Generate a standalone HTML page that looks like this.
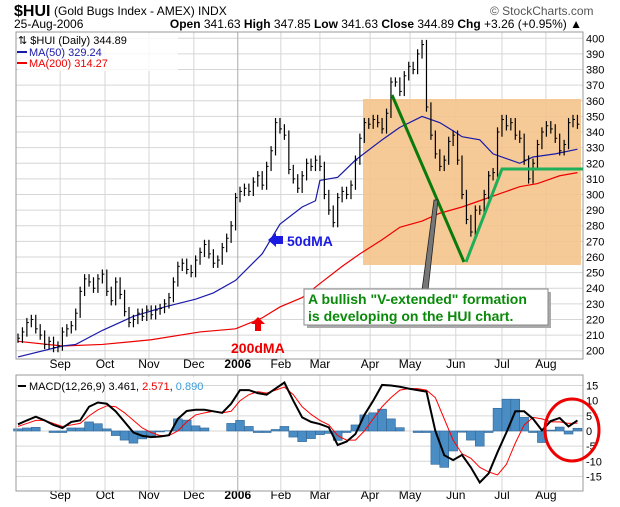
<!DOCTYPE html>
<html><head><meta charset="utf-8"><style>
body{margin:0;background:#fff;}
svg{display:block;font-family:"Liberation Sans",sans-serif;}
</style></head><body>
<svg id="c" width="620" height="507" viewBox="0 0 620 507">
<g>
<text x="14" y="16" font-size="16" font-weight="bold">$HUI</text>
<text x="54" y="15" font-size="12">(Gold Bugs Index - AMEX) INDX</text>
<text x="490" y="15" font-size="12" fill="#555">© StockCharts.com</text>
<text x="14" y="28" font-size="12">25-Aug-2006</text>
<text x="582" y="28" font-size="12" text-anchor="end"><tspan font-weight="bold">Open</tspan> 341.63 <tspan font-weight="bold">High</tspan> 347.85 <tspan font-weight="bold">Low</tspan> 341.63 <tspan font-weight="bold">Close</tspan> 344.89 <tspan font-weight="bold">Chg</tspan> +3.26 (+0.95%) ▲</text>
</g>
<g id="main"></g>
<g id="macd"></g>
</svg>
<script>
// ---- price data (bars every 2 trading days, k index) ----
const closes=[208,212,218,220,214,210,204,206,202,203,212,214,216,224,238,246,244,240,246,249,238,232,244,236,225,218,220,224,222,226,223,226,227,230,234,244,254,256,252,250,258,263,268,262,256,258,266,272,280,298,302,304,302,308,312,306,318,328,346,342,338,316,310,304,312,320,318,322,318,300,290,282,298,302,300,306,322,336,346,345,348,346,342,352,372,372,366,376,382,380,390,396,356,338,326,318,322,334,338,322,300,284,276,290,290,300,312,314,340,348,344,346,338,336,322,310,320,332,340,344,342,336,328,332,346,348,345];
const ma50K=[0,10,13,19,26,33,40,44,49,55,59,64,67,68,72,76,82,86,91,95,99,100,104,107,113,116,121,126];
const ma50V=[196,203,204,213,222,228,233,237,245,262,281,292,296,309,311,322,335,343,350,346,339,337,335,326,320,324,326,329];
const ma200K=[0,10,19,30,41,49,55,59,64,68,73,77,82,86,91,95,100,104,109,113,117,122,126];
const ma200V=[206,203,204,207,212,214,221,228,234,243,254,262,271,279,283,288,292,296,301,305,307,312,314];
const priceTicks=[200,210,220,230,240,250,260,270,280,290,300,310,320,330,340,350,360,370,380,390,400];
// ---- MACD data (every 2 k) ----
const macdLine=[2.2,3.5,4.7,3.5,2,1,3,3.5,8,9.4,9,6.5,3,-0.5,-1.6,-2,-1.8,-1.4,4,6.6,7,7,6.5,6,9,13.5,13.5,12.5,12,14,16,10,4.5,3,2.3,1.2,-4.6,-3.5,-1,5.3,10,15.2,15,14.6,14,13.5,13,0,-8,-9.6,-7.9,-12,-17,-14,-7,-0.5,6.5,6.5,4,0.2,3.3,4.3,1.5,3.5];
const signalLine=[1.5,2.5,3.5,3.5,2.5,1.5,2,2.5,5,7,8.3,8,6,3.5,1,-0.5,-1.5,-1.5,0,3,5.3,6,6.5,6,6.5,10,12,13,12.5,13.5,14.5,12,8,5.5,3.5,2,-1.5,-3,-3,0,4,8,11,13.5,14,14,13.5,11,4,-3,-7.5,-9,-12,-13.5,-14.5,-11,-4,2,4.5,4,3,3,2.5,2.6];
const macdTicks=[15,10,5,0,-5,-10,-15];
const months=["Sep","Oct","Nov","Dec","2006","Feb","Mar","Apr","May","Jun","Jul","Aug"];
const monthK=[9.5,19.6,29.5,39.6,49.5,59.2,68,79.3,88.3,98.6,109,118.9];

const NS="http://www.w3.org/2000/svg";
const L=16,R=583,PT=32,PB=359,MT=375,MB=491;
const xk=k=>18+k*4.44;
const yp=p=>38.3+(400-p)*1.562;
const ym=v=>431-v*3.03;
function mk(parent,tag,attrs){const e=document.createElementNS(NS,tag);for(const a in attrs)e.setAttribute(a,attrs[a]);parent.appendChild(e);return e;}
const main=document.getElementById('main'),mp=document.getElementById('macd');

priceTicks.forEach(t=>{
 const g=mk(main,'line',{x1:L,x2:R,y1:yp(t),y2:yp(t),stroke:'#d6d6d6','stroke-width':1});
 
 
 const tx=mk(main,'text',{x:R+3,y:yp(t)+4,'font-size':11});
 tx.textContent=t;
 
 
});
monthK.forEach((k,i)=>{
 const yr=months[i]==="2006";
 [[PT,PB,main],[MT,MB,mp]].forEach(([a,b,par])=>{
  const g=mk(par,'line',{x1:xk(k),x2:xk(k),y1:a,y2:b,stroke:yr?'#aaa':'#d6d6d6','stroke-width':1});
  
  
 });
 [368,499].forEach(y=>{
  const t=mk(mp,'text',{x:xk(k),y:y,'font-size':12,'text-anchor':'middle','font-weight':yr?'bold':'normal'});
  t.textContent=months[i];
  
  
 });
});
const rect=mk(main,'rect',{x:363,y:99,width:218,height:166,fill:'#f5c48c','fill-opacity':0.9});


function poly(par,ks,vs,fy,col,w,name){const p=mk(par,'polyline',{points:ks.map((k,i)=>xk(k)+','+fy(vs[i])).join(' '),fill:'none',stroke:col,'stroke-width':w});return p;}
poly(main,ma200K,ma200V,yp,'#e00','1.2','ma200-line');
poly(main,ma50K,ma50V,yp,'#1a1aa8','1.2','ma50-line');
closes.forEach((c,k)=>{
 const prev=k?closes[k-1]:c;
 const hi=Math.max(prev,c)+3,lo=Math.min(prev,c)-3;
 const b=mk(main,'line',{x1:xk(k),x2:xk(k),y1:yp(hi),y2:yp(lo),stroke:'#000','stroke-width':1.2});
 
 
 const t=mk(main,'line',{x1:xk(k),x2:xk(k)+2,y1:yp(c),y2:yp(c),stroke:'#000','stroke-width':1});
 
 
});
const pb=mk(main,'rect',{x:L,y:PT,width:R-L,height:PB-PT,fill:'none',stroke:'#999'});



macdTicks.forEach(t=>{
 const g=mk(mp,'line',{x1:L,x2:R,y1:ym(t),y2:ym(t),stroke:'#d6d6d6'});
 
 
 const tx=mk(mp,'text',{x:R+3,y:ym(t)+4,'font-size':11});
 tx.textContent=t;
 
 
});
const ks=macdLine.map((v,i)=>i*2);
macdLine.forEach((v,i)=>{
 const h=v-signalLine[i];
 const y1=Math.min(ym(h),ym(0)),hh=Math.abs(ym(h)-ym(0));
 const r=mk(mp,'rect',{x:xk(ks[i])-4.44,y:y1,width:8.88,height:hh,fill:'#4a8cc4',stroke:'#2f6697','stroke-width':0.6});
 
 
});
poly(mp,ks,signalLine,ym,'#f00','1','signal-line');
poly(mp,ks,macdLine,ym,'#000','2','macd-line');
const mb=mk(mp,'rect',{x:L,y:MT,width:R-L,height:MB-MT,fill:'none',stroke:'#999'});


</script>
<svg width="620" height="507" style="position:absolute;left:0;top:0">
<g font-family="Liberation Sans,sans-serif">
<rect x="18" y="33" width="160" height="38" fill="#fff" fill-opacity="0.8"/>
<text x="18" y="44" font-size="11">⇅ $HUI (Daily) 344.89</text>
<line x1="17" y1="52" x2="27" y2="52" stroke="#1a1aa8" stroke-width="2"/>
<text x="29" y="56" font-size="11" fill="#1a1aa8">MA(50) 329.24</text>
<line x1="17" y1="63" x2="27" y2="63" stroke="#e00" stroke-width="2"/>
<text x="29" y="67" font-size="11" fill="#e00">MA(200) 314.27</text>
<line x1="392" y1="95" x2="464" y2="262" stroke="#0a7a0a" stroke-width="3"/>
<polyline points="466,262 502,169 583,169" fill="none" stroke="#1fae5a" stroke-width="3"/>
<polygon points="422,290 428,290 438,200 434,200" fill="#777" stroke="#222" stroke-width="0.8"/>
<rect x="307" y="292" width="244" height="36" fill="#aaa"/>
<rect x="304" y="289" width="244" height="36" fill="#fff" stroke="#888"/>
<text x="308" y="304" font-size="14" font-weight="bold" fill="#0a8a0a">A bullish "V-extended" formation</text>
<text x="308" y="321" font-size="14" font-weight="bold" fill="#0a8a0a">is developing on the HUI chart.</text>
<polygon points="268,240 276,233 276,236 283,236 283,244 276,244 276,247" fill="#1a1ae0"/>
<text x="287" y="246" font-size="14" font-weight="bold" fill="#1a1ae0">50dMA</text>
<polygon points="258,317 265,324 261,324 261,331 255,331 255,324 251,324" fill="#e00"/>
<text x="231" y="353" font-size="14" font-weight="bold" fill="#e00">200dMA</text>
<rect x="18" y="377" width="178" height="14" fill="#fff" fill-opacity="0.8"/>
<line x1="18" y1="386" x2="26" y2="386" stroke="#000" stroke-width="2"/>
<text x="29" y="390" font-size="11">MACD(12,26,9) 3.461, <tspan fill="#e00">2.571</tspan>, <tspan fill="#3a9ad9">0.890</tspan></text>
<ellipse cx="572" cy="430" rx="27" ry="31" fill="none" stroke="#e00" stroke-width="3"/>
</g></svg>
</body></html>
